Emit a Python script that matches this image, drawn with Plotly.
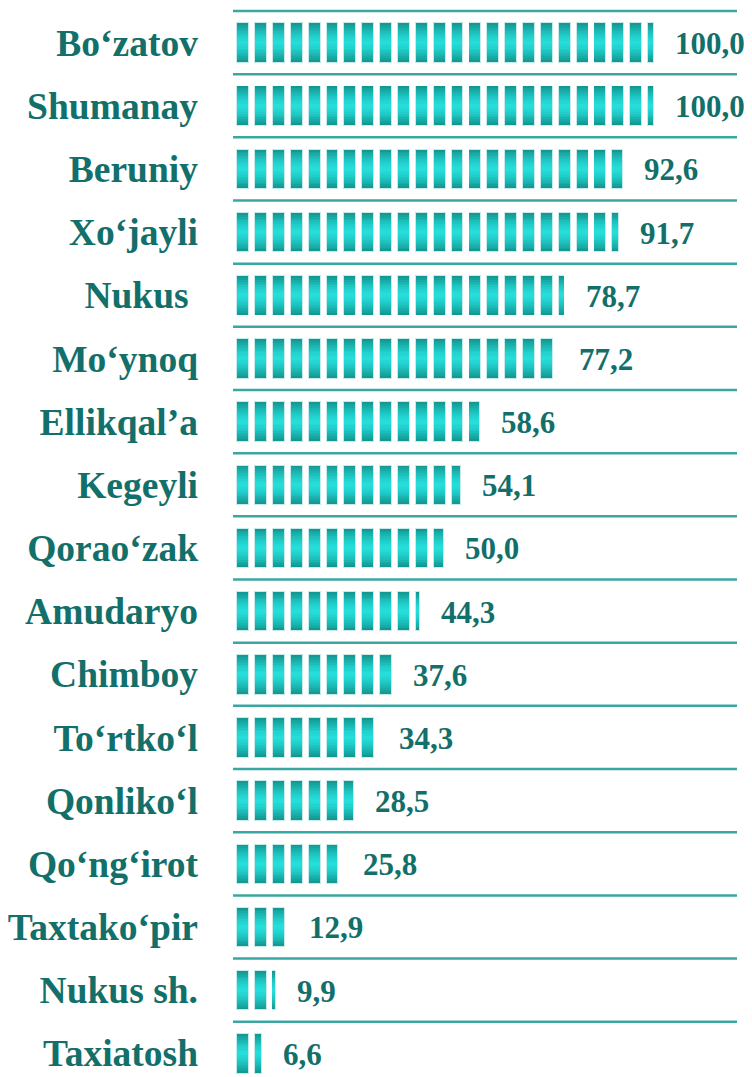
import plotly.graph_objects as go
import math

districts = ["Bo‘zatov", "Shumanay", "Beruniy", "Xo‘jayli", "Nukus\u00a0", "Mo‘ynoq",
             "Ellikqal’a", "Kegeyli", "Qorao‘zak", "Amudaryo", "Chimboy", "To‘rtko‘l",
             "Qonliko‘l", "Qo‘ng‘irot", "Taxtako‘pir", "Nukus sh.", "Taxiatosh"]
values = [100.0, 100.0, 92.6, 91.7, 78.7, 77.2, 58.6, 54.1, 50.0, 44.3, 37.6,
          34.3, 28.5, 25.8, 12.9, 9.9, 6.6]

TEXT = "#126f6a"
LINE = "#3aa7a3"
FONT = "Liberation Serif"

# pictogram cell: blank lead, then a filled block
CELL = 4.252
LEAD = 1.016
FILL = 2.6

seg_y, seg_base, seg_len = [], [], []
for name, v in zip(districts, values):
    for k in range(math.ceil(v / CELL)):
        s = k * CELL + LEAD
        e = min(s + FILL, v)
        if e > s:
            seg_y.append(name)
            seg_base.append(s)
            seg_len.append(e - s)

fig = go.Figure()

# fake vertical gradient: stacked narrower, lighter copies
layers = [(0.64, "#c4ebe9", 0.22), (0.61, "#139893", 0), (0.55, "#16a29d", 0),
          (0.49, "#18aca7", 0), (0.43, "#1ab5b0", 0), (0.37, "#1cbeb9", 0),
          (0.31, "#1ec6c1", 0), (0.25, "#20cdc8", 0), (0.19, "#22d3cf", 0),
          (0.12, "#24d9d5", 0), (0.06, "#27ddd9", 0)]
for w, col, pad in layers:
    fig.add_trace(go.Bar(
        y=seg_y, x=[l + 2 * pad for l in seg_len], base=[b - pad for b in seg_base],
        orientation="h", width=w, marker=dict(color=col, line=dict(width=0)),
        hoverinfo="skip", showlegend=False,
    ))

for name, v in zip(districts, values):
    fig.add_annotation(x=v, y=name, text=f"{v:.1f}".replace(".", ","),
                       showarrow=False, xanchor="left", xshift=20, yshift=-1,
                       font=dict(family=FONT, size=31, color=TEXT, weight="bold"))

shapes = []
for i in range(len(districts) + 1):
    shapes.append(dict(type="line", xref="paper", yref="y", x0=0, x1=1,
                       y0=i - 0.5, y1=i - 0.5, line=dict(color=LINE, width=2.5),
                       layer="below"))

fig.update_layout(
    width=744, height=1069,
    margin=dict(l=221, r=15, t=0, b=0),
    plot_bgcolor="white", paper_bgcolor="white",
    barmode="overlay", bargap=0,
    shapes=shapes,
    xaxis=dict(range=[0, 120], visible=False, fixedrange=True),
    yaxis=dict(type="category", categoryorder="array", categoryarray=districts,
               range=[16.375, -0.5475], showgrid=False, zeroline=False,
               ticks="", ticklabelstandoff=34,
               tickfont=dict(family=FONT, size=37.5, color=TEXT, weight="bold")),
)

fig.write_html("out.html")
